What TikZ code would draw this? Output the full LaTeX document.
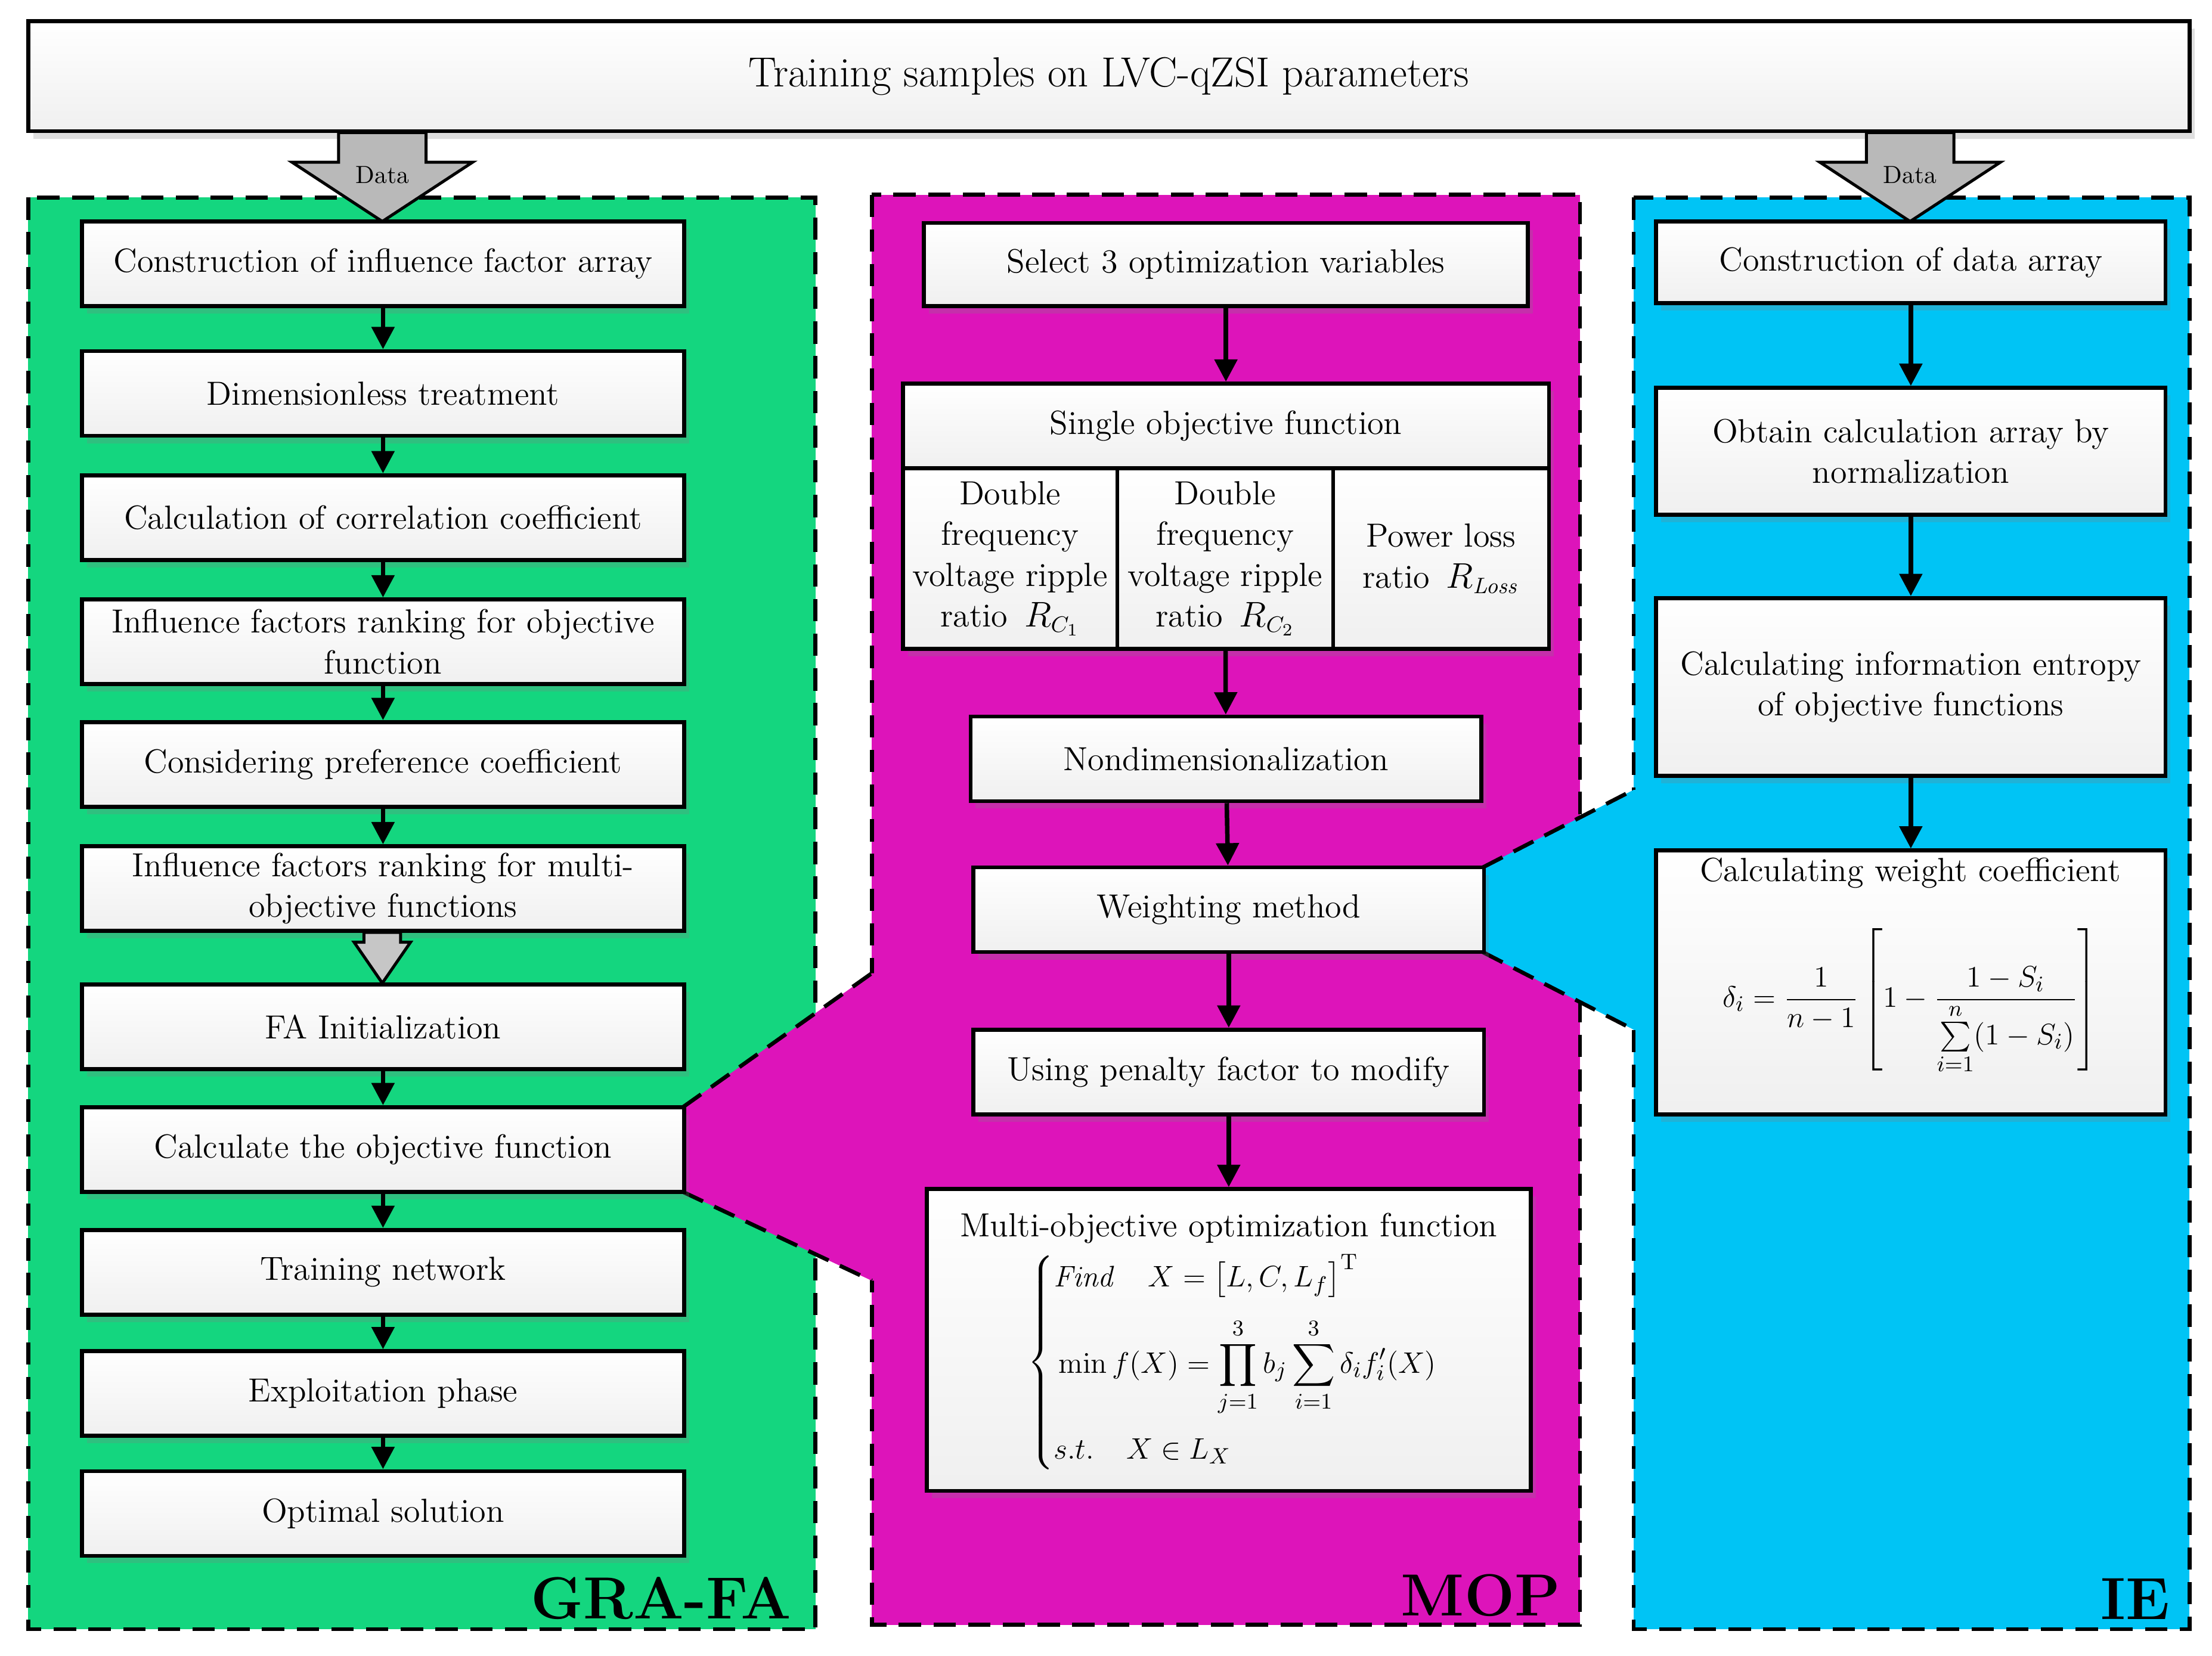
\documentclass[tikz,border=0pt]{standalone}
\usepackage{amsmath}
\usetikzlibrary{arrows.meta,shadows}
\definecolor{pgreen}{HTML}{14D67F}
\definecolor{pmag}{HTML}{DD14BA}
\definecolor{pcyan}{HTML}{00C4F5}
\newcommand\bx[6]{\node[box,minimum width={(#4-#2)*0.02cm},minimum height={(#5-#3)*0.02cm}] (#1) at ({(#2+#4)/2},{(#3+#5)/2}) {#6};}
\tikzset{
  box/.style={draw=black,line width=1.6pt,inner sep=1pt,align=center,top color=white,bottom color=gray!12,
    drop shadow={opacity=0.25,shadow xshift=2pt,shadow yshift=-3pt},font=\fontsize{13.5}{16.5}\selectfont},
  panel/.style={dashed,dash pattern=on 9pt off 5pt,line width=1.6pt},
  arr/.style={line width=1.8pt,-{Triangle[length=9pt,width=9pt]}},
  lbl/.style={font=\fontsize{24}{26}\selectfont\bfseries,anchor=south east,inner sep=2pt},
  blk/.style={fill=gray!55,draw=black,line width=1.2pt}
}
\begin{document}
\begin{tikzpicture}[x=0.02cm,y=-0.02cm]
\useasboundingbox (0,0) rectangle (1568,1174);
% panels
\draw[panel,fill=pgreen] (20,140) rectangle (578,1155);
\draw[panel,fill=pmag] (618,138) rectangle (1120,1152);
\draw[panel,fill=pcyan] (1158,140) rectangle (1552,1155);
\node[lbl] at (565,1152) {GRA-FA};
\node[lbl] at (1110,1150) {MOP};
\node[lbl] at (1542,1152) {IE};
% callouts
\fill[pmag] (484,785) -- (618,690) -- (625,690) -- (625,908) -- (618,908) -- (484,845) -- cycle;
\draw[panel] (484,785) -- (618,690);
\draw[panel] (484,845) -- (618,908);
\fill[pcyan] (1051,615) -- (1158,560) -- (1165,560) -- (1165,730) -- (1158,730) -- (1051,675) -- cycle;
\draw[panel] (1051,615) -- (1158,560);
\draw[panel] (1051,675) -- (1158,730);
% top
\node[box,font=\fontsize{17}{20}\selectfont,minimum width={1532*0.02cm},minimum height={78*0.02cm}] (top) at (786,54) {Training samples on LVC-qZSI parameters};
% data arrows
\draw[blk] (240,94) -- (302,94) -- (302,115) -- (335,115) -- (271,157) -- (207,115) -- (240,115) -- cycle;
\node[font=\fontsize{10}{12}\selectfont] (d1) at (271,124) {Data};
\draw[blk] (1323,94) -- (1385,94) -- (1385,115) -- (1418,115) -- (1354,157) -- (1290,115) -- (1323,115) -- cycle;
\node[font=\fontsize{10}{12}\selectfont] (d2) at (1354,124) {Data};
% left column
\bx{l1}{58}{157}{485}{217}{Construction of influence factor array}
\bx{l2}{58}{249}{485}{309}{Dimensionless treatment}
\bx{l3}{58}{337}{485}{397}{Calculation of correlation coefficient}
\bx{l4}{58}{425}{485}{485}{Influence factors ranking for objective\\function}
\bx{l5}{58}{512}{485}{572}{Considering preference coefficient}
\bx{l6}{58}{600}{485}{660}{Influence factors ranking for multi-\\objective functions}
\bx{l7}{58}{698}{485}{758}{FA Initialization}
\bx{l8}{58}{785}{485}{845}{Calculate the objective function}
\bx{l9}{58}{872}{485}{932}{Training network}
\bx{l10}{58}{958}{485}{1018}{Exploitation phase}
\bx{l11}{58}{1043}{485}{1103}{Optimal solution}
\foreach \a/\b in {l1/l2,l2/l3,l3/l4,l4/l5,l5/l6,l7/l8,l8/l9,l9/l10,l10/l11}
  \draw[arr] (\a) -- (\b);
\draw[blk,fill=gray!45] (258,661) -- (284,661) -- (284,668) -- (291,668) -- (271,697) -- (251,668) -- (258,668) -- cycle;
% middle column
\bx{m1}{655}{158}{1083}{217}{Select 3 optimization variables}
\bx{m2}{640}{272}{1098}{332}{Single objective function}
\bx{s1}{640}{332}{792}{460}{Double\\frequency\\voltage ripple\\ratio \,$R_{C_1}$}
\bx{s2}{792}{332}{945}{460}{Double\\frequency\\voltage ripple\\ratio \,$R_{C_2}$}
\bx{s3}{945}{332}{1098}{460}{Power loss\\ratio \,$R_{\mathit{Loss}}$}
\bx{m3}{688}{508}{1050}{568}{Nondimensionalization}
\bx{m4}{690}{615}{1052}{675}{Weighting method}
\bx{m5}{690}{730}{1052}{790}{Using penalty factor to modify}
\bx{m6}{657}{843}{1085}{1057}{}
\node[font=\fontsize{13.5}{16.5}\selectfont] (m6t) at (871,871) {Multi-objective optimization function};
\node[anchor=west,font=\fontsize{13}{16}\selectfont] (m6f) at (722,966) {$\left\{\begin{aligned}
 &\mathit{Find}\quad X=\bigl[L,C,L_f\bigr]^{\mathrm T}\\[4pt]
 &\min f(X)=\prod_{j=1}^{3} b_j\sum_{i=1}^{3}\delta_i f_i'(X)\\[2pt]
 &s.t.\quad X\in L_X
\end{aligned}\right.$};
\draw[arr] (m1) -- (m2);
\draw[arr] (s2) -- (m3);
\draw[arr] (m3) -- (m4);
\draw[arr] (m4) -- (m5);
\draw[arr] (m5) -- (m6);
% right column
\bx{r1}{1174}{157}{1535}{215}{Construction of data array}
\bx{r2}{1174}{275}{1535}{365}{Obtain calculation array by\\normalization}
\bx{r3}{1174}{424}{1535}{550}{Calculating information entropy\\of objective functions}
\bx{r4}{1174}{603}{1535}{790}{}
\node[font=\fontsize{13.5}{16.5}\selectfont] (r4t) at (1354,619) {Calculating weight coefficient};
\node[font=\fontsize{13}{16}\selectfont] (r4f) at (1354,710) {$\delta_i=\dfrac{1}{n-1}\left[1-\dfrac{1-S_i}{\sum\limits_{i=1}^{n}(1-S_i)}\right]$};
\draw[arr] (r1) -- (r2);
\draw[arr] (r2) -- (r3);
\draw[arr] (r3) -- (r4);
\end{tikzpicture}
\end{document}
